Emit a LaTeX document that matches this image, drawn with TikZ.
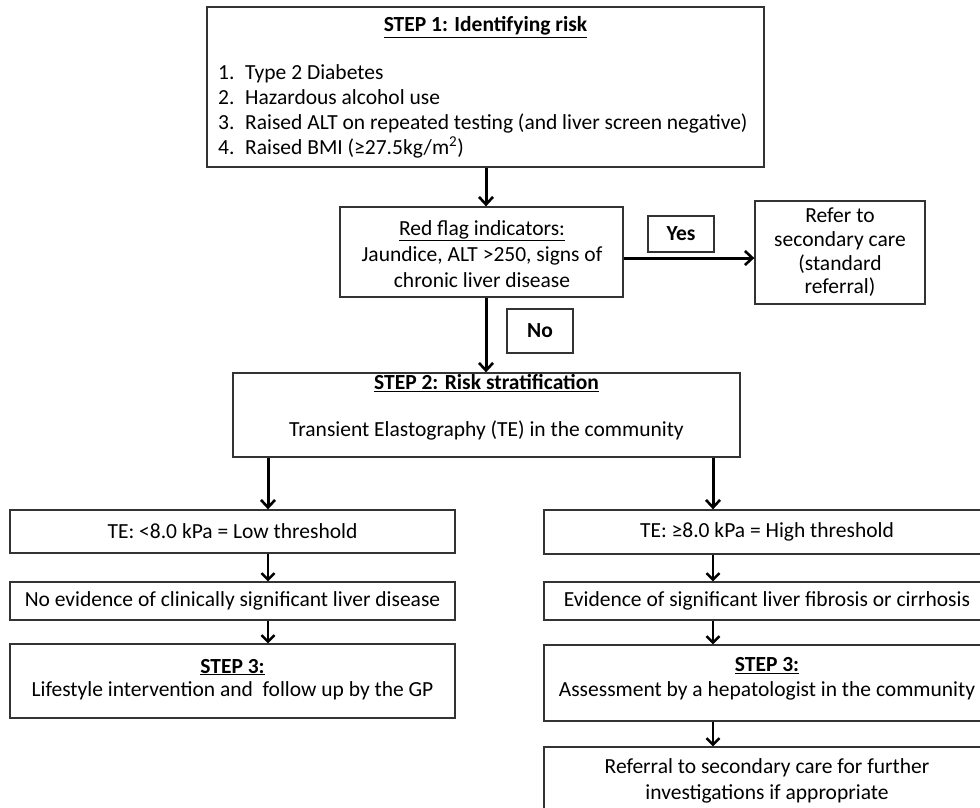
\documentclass[tikz,border=0pt]{standalone}
\usepackage{fontspec}
\setmainfont{Carlito}
\usetikzlibrary{arrows.meta}
\newcommand{\bodyfont}[1]{\fontsize{21.5}{#1}\selectfont}
\tikzset{
  box/.style={draw=black!80, line width=1.3pt, rectangle, inner sep=0pt, align=center,
              font=\bodyfont{25}},
  boxtext/.style={inner sep=0pt, align=center, font=\bodyfont{#1}},
  boxtext/.default=25,
  listline/.style={anchor=base west, inner sep=0pt, font=\bodyfont{25}},
  flow/.style={line width=3pt, -{Straight Barb[length=7.5pt,width=14pt,line width=2.6pt]}},
  small/.style={line width=2.6pt, -{Straight Barb[length=6.5pt,width=13pt,line width=2.4pt]}},
}
\begin{document}
\begin{tikzpicture}[x=1pt,y=-1pt]
\clip (0,0) rectangle (980,807);
\fill[white] (0,0) rectangle (980,807);

% Step 1: risk factors
\node[box, minimum width=557pt, minimum height=160pt] (s1) at (485.5,87) {};
\node[boxtext] (s1t) at (485.5,27) {\underline{\textbf{STEP 1: Identifying risk}}};
\node[listline] (l1) at (218,79.5)  {\makebox[27pt][l]{1.}Type 2 Diabetes};
\node[listline] (l2) at (218,104.5) {\makebox[27pt][l]{2.}Hazardous alcohol use};
\node[listline] (l3) at (218,129.5) {\makebox[27pt][l]{3.}Raised ALT on repeated testing (and liver screen negative)};
\node[listline] (l4) at (218,154.5) {\makebox[27pt][l]{4.}Raised BMI (≥27.5kg/m\textsuperscript{2})};

% Red flags and referral
\node[box, minimum width=283pt, minimum height=90pt] (red) at (481.5,252) {};
\node[boxtext=26] (redt) at (482,254)
  {\underline{Red flag indicators:}\\Jaundice, ALT >250, signs of\\chronic liver disease};
\node[box, minimum width=66pt, minimum height=36pt] (yes) at (681,234) {\textbf{Yes}};
\node[box, minimum width=170pt, minimum height=103pt, font=\bodyfont{23.7}] (refer) at (840,252.5)
  {Refer to\\secondary care\\(standard\\referral)};
\node[box, minimum width=66pt, minimum height=44pt] (no) at (540,331) {\textbf{No}};

% Step 2
\node[box, minimum width=507pt, minimum height=84pt] (s2) at (486.5,415) {};
\node[boxtext=47] (s2t) at (486.5,407)
  {\underline{\textbf{STEP 2: Risk stratification}}\\Transient Elastography (TE) in the community};

% Low threshold branch
\node[box, minimum width=445pt, minimum height=43pt] (teL) at (232.5,531.5) {TE: <8.0 kPa = Low threshold};
\node[box, minimum width=445pt, minimum height=38pt] (evL) at (232.5,601) {No evidence of clinically significant liver disease};
\node[box, minimum width=445pt, minimum height=74pt] (s3L) at (232.5,681) {};
\node[boxtext=23.5] (s3Lt) at (232.5,679.5)
  {\underline{\textbf{STEP 3:}}\\Lifestyle intervention and\ \ follow up by the GP};

% High threshold branch
\node[box, minimum width=446pt, minimum height=44pt] (teR) at (767,532) {TE: ≥8.0 kPa = High threshold};
\node[box, minimum width=446pt, minimum height=38pt] (evR) at (767,601) {Evidence of significant liver fibrosis or cirrhosis};
\node[box, minimum width=446pt, minimum height=76pt] (s3R) at (767,683) {};
\node[boxtext=25] (s3Rt) at (767,678.5)
  {\underline{\textbf{STEP 3:}}\\Assessment by a hepatologist in the community};
\node[box, minimum width=446pt, minimum height=78pt] (refR) at (767,786) {};
\node[boxtext=26] (refRt) at (767,781)
  {Referral to secondary care for further\\investigations if appropriate};

% Connectors
\coordinate (ry) at (623,258);
\coordinate (sl) at (268,457);
\coordinate (sr) at (713,457);
\coordinate (sm) at (486,0);
\draw[flow] (s1.south -| sm) -- (red.north -| sm);
\draw[flow] (red.south -| sm) -- (s2.north -| sm);
\draw[flow] (red.east |- ry) -- (refer.west |- ry);
\draw[flow] (s2.south -| sl) -- (teL.north -| sl);
\draw[flow] (s2.south -| sr) -- (teR.north -| sr);
\draw[small] (teL.south -| sl) -- (evL.north -| sl);
\draw[small] (evL.south -| sl) -- (s3L.north -| sl);
\draw[small] (teR.south -| sr) -- (evR.north -| sr);
\draw[small] (evR.south -| sr) -- (s3R.north -| sr);
\draw[small] (s3R.south -| sr) -- (refR.north -| sr);
\end{tikzpicture}
\end{document}
